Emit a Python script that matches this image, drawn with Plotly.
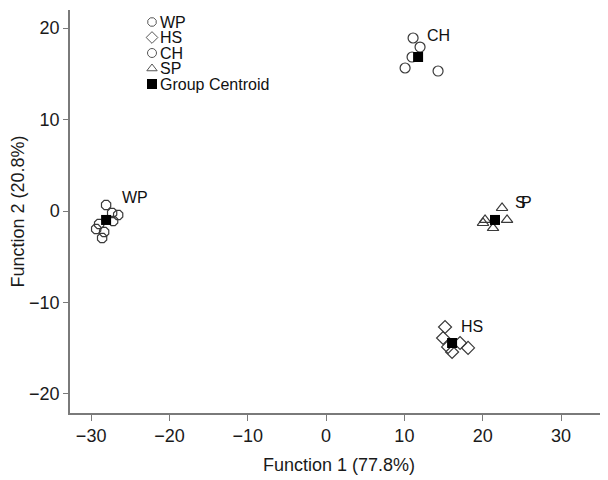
import plotly.graph_objects as go

# ---- data (discriminant function scores) ----
groups = ["WP", "HS", "CH", "SP"]
symbols = ["octagon-open", "diamond-open", "circle-open", "triangle-up-open"]

wp_f1 = [-28.09, -27.32, -26.55, -27.19, -29.36, -28.6, -28.34, -28.98]
wp_f2 = [0.66, -0.22, -0.44, -1.09, -1.97, -2.95, -2.3, -1.42]

hs_f1 = [15.19, 14.94, 17.11, 18.13, 16.09, 15.58]
hs_f2 = [-12.68, -13.88, -14.43, -14.97, -15.41, -14.86]

ch_f1 = [11.11, 12.0, 10.98, 10.09, 14.3]
ch_f2 = [18.91, 17.92, 16.83, 15.63, 15.3]

sp_f1 = [22.47, 20.3, 23.11, 21.32, 20.04]
sp_f2 = [0.33, -0.98, -0.98, -1.86, -1.31]

centroid_f1 = [-28.09, 16.09, 11.75, 21.57]
centroid_f2 = [-0.98, -14.43, 16.83, -0.98]

# group label anchor points (data units)
label_f1 = [-26.3, 16.98, 12.64, 23.87]
label_f2 = [1.48, -12.57, 19.15, 0.98]

x_ticks = [-30, -20, -10, 0, 10, 20, 30]
y_ticks = [-20, -10, 0, 10, 20]

legend_labels = ["WP", "HS", "CH", "SP", "Group Centroid"]

FONT = "Liberation Sans, Arial, Helvetica, sans-serif"
EDGE = "#3a3a3a"
AXC = "#7a7a7a"

fig = go.Figure()

series = [(wp_f1, wp_f2), (hs_f1, hs_f2), (ch_f1, ch_f2), (sp_f1, sp_f2)]
for g, sym, (xs, ys) in zip(groups, symbols, series):
    fig.add_trace(go.Scatter(
        x=xs, y=ys, mode="markers", name=g, showlegend=False,
        marker=dict(symbol=sym, size=10, color=EDGE, line=dict(width=1.2, color=EDGE)),
    ))

fig.add_trace(go.Scatter(
    x=centroid_f1, y=centroid_f2, mode="markers", name="Group Centroid", showlegend=False,
    marker=dict(symbol="square", size=10, color="#000000", line=dict(width=0)),
))

# group labels
for g, lx, ly in zip(groups, label_f1, label_f2):
    if g == "SP":
        # the original has overlapping S and P glyphs
        fig.add_annotation(x=lx, y=ly, xref="x", yref="y", text="S", showarrow=False,
                           xanchor="left", yanchor="middle",
                           font=dict(family=FONT, size=16, color="#111"))
        fig.add_annotation(x=lx, y=ly, xref="x", yref="y", text="P", showarrow=False,
                           xanchor="left", yanchor="middle", xshift=6,
                           font=dict(family=FONT, size=16, color="#111"))
    else:
        fig.add_annotation(x=lx, y=ly, xref="x", yref="y", text=g, showarrow=False,
                           xanchor="left", yanchor="middle",
                           font=dict(family=FONT, size=16, color="#111"))

# compact legend drawn on an overlay axis whose units are page pixels
leg_x = 152
leg_y = [22, 37.5, 53, 68.5, 84]
leg_syms = symbols + ["square"]
for lab, sym, yy in zip(legend_labels, leg_syms, leg_y):
    filled = sym == "square"
    fig.add_trace(go.Scatter(
        x=[leg_x], y=[yy], xaxis="x2", yaxis="y2", mode="markers", showlegend=False,
        hoverinfo="skip",
        marker=dict(symbol=sym, size=9 if not filled else 10,
                    color="#000" if filled else "#555",
                    line=dict(width=1 if not filled else 0, color="#555")),
    ))
    fig.add_annotation(x=leg_x + 6, y=yy, xref="x2", yref="y2", text=lab, showarrow=False,
                       xanchor="left", yanchor="middle",
                       font=dict(family=FONT, size=16, color="#111"))

# page body has an 8px margin, so the figure is 8px smaller on each axis
fig.update_layout(
    width=600, height=472,
    margin=dict(l=62, r=0, t=2, b=67, autoexpand=False),
    paper_bgcolor="white", plot_bgcolor="white",
    font=dict(family=FONT, color="#111"),
    xaxis=dict(
        range=[-32.7, 36.0], tickvals=x_ticks, ticks="outside", ticklen=6, tickwidth=1.3,
        tickcolor=AXC, showline=True, linecolor=AXC, linewidth=1.5, showgrid=False,
        zeroline=False, tickfont=dict(family=FONT, size=18, color="#1a1a1a"),
        title=dict(text="Function 1 (77.8%)", font=dict(family=FONT, size=18, color="#1a1a1a"),
                   standoff=13),
        automargin=False,
    ),
    yaxis=dict(
        range=[-22.08, 21.97], tickvals=y_ticks, ticks="outside", ticklen=5, tickwidth=1.3,
        tickcolor=AXC, showline=True, linecolor=AXC, linewidth=1.5, showgrid=False,
        zeroline=False, tickfont=dict(family=FONT, size=18, color="#1a1a1a"),
        title=dict(text="Function 2 (20.8%)", font=dict(family=FONT, size=18, color="#1a1a1a"),
                   standoff=8),
        automargin=False,
    ),
    xaxis2=dict(overlaying="x", range=[70, 608], visible=False, fixedrange=True),
    yaxis2=dict(overlaying="y", range=[413, 10], visible=False, fixedrange=True),
)

fig.write_html("out.html")
